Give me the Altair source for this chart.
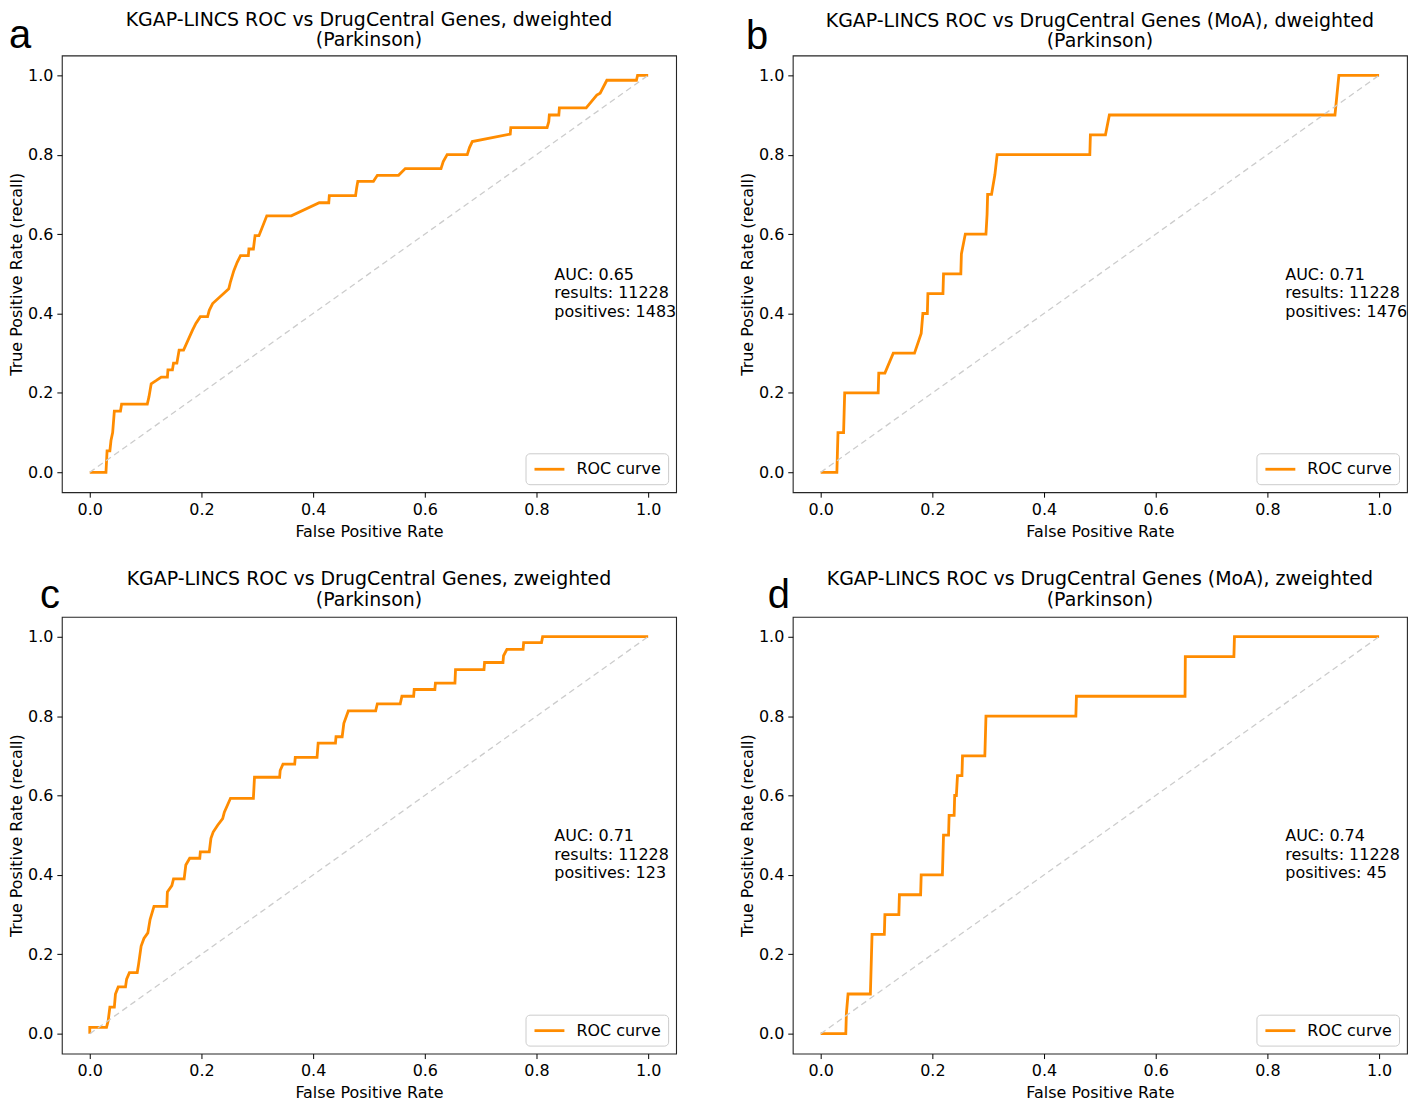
import altair as alt
import pandas as pd

# ---------------- data ----------------
titles = [
    ["KGAP-LINCS ROC vs DrugCentral Genes, dweighted", "(Parkinson)"],
    ["KGAP-LINCS ROC vs DrugCentral Genes (MoA), dweighted", "(Parkinson)"],
    ["KGAP-LINCS ROC vs DrugCentral Genes, zweighted", "(Parkinson)"],
    ["KGAP-LINCS ROC vs DrugCentral Genes (MoA), zweighted", "(Parkinson)"],
]
letters = ["a", "b", "c", "d"]
auc_values = ["0.65", "0.71", "0.71", "0.74"]
results_counts = [11228, 11228, 11228, 11228]
positives_counts = [1483, 1476, 123, 45]
legend_label = "ROC curve"
tick_values = [0.0, 0.2, 0.4, 0.6, 0.8, 1.0]

fpr_a = [0, 0.029, 0.031, 0.036, 0.038, 0.041, 0.044, 0.055, 0.057, 0.103, 0.106, 0.110,
         0.120, 0.128, 0.139, 0.140, 0.148, 0.150, 0.156, 0.160, 0.168, 0.184, 0.190, 0.198,
         0.211, 0.214, 0.220, 0.249, 0.252, 0.258, 0.264, 0.270, 0.284, 0.285, 0.293, 0.296,
         0.303, 0.317, 0.361, 0.411, 0.428, 0.429, 0.476, 0.478, 0.480, 0.508, 0.515, 0.553,
         0.565, 0.629, 0.633, 0.640, 0.676, 0.680, 0.685, 0.753, 0.754, 0.819, 0.822, 0.823,
         0.840, 0.841, 0.889, 0.908, 0.914, 0.926, 0.979, 0.981, 1.0]
tpr_a = [0, 0, 0.054, 0.054, 0.080, 0.100, 0.154, 0.154, 0.172, 0.172, 0.190, 0.223,
         0.232, 0.240, 0.240, 0.258, 0.258, 0.275, 0.275, 0.308, 0.308, 0.358, 0.375, 0.392,
         0.392, 0.408, 0.425, 0.4625, 0.480, 0.508, 0.529, 0.546, 0.546, 0.5625, 0.5625, 0.596,
         0.596, 0.646, 0.646, 0.679, 0.679, 0.697, 0.697, 0.717, 0.733, 0.733, 0.748, 0.748,
         0.765, 0.765, 0.7825, 0.800, 0.800, 0.818, 0.833, 0.852, 0.868, 0.868, 0.883, 0.900,
         0.900, 0.918, 0.918, 0.950, 0.955, 0.9875, 0.9875, 1.0, 1.0]

fpr_b = [0, 0.029, 0.030, 0.031, 0.041, 0.042, 0.043, 0.103, 0.104, 0.115, 0.130, 0.168,
         0.180, 0.183, 0.191, 0.192, 0.219, 0.220, 0.251, 0.252, 0.259, 0.296, 0.298, 0.299,
         0.306, 0.312, 0.316, 0.482, 0.483, 0.510, 0.517, 0.921, 0.928, 1.0]
tpr_b = [0, 0, 0.05, 0.10, 0.10, 0.15, 0.20, 0.20, 0.25, 0.25, 0.30, 0.30,
         0.35, 0.40, 0.40, 0.45, 0.45, 0.50, 0.50, 0.55, 0.60, 0.60, 0.65, 0.70,
         0.70, 0.75, 0.80, 0.80, 0.85, 0.85, 0.90, 0.90, 1.0, 1.0]

fpr_c = [0, 0, 0.030, 0.033, 0.036, 0.044, 0.046, 0.051, 0.064, 0.066, 0.071, 0.085,
         0.087, 0.092, 0.097, 0.104, 0.108, 0.115, 0.138, 0.139, 0.147, 0.150, 0.169, 0.172,
         0.179, 0.197, 0.198, 0.214, 0.217, 0.221, 0.229, 0.238, 0.241, 0.252, 0.293, 0.295,
         0.340, 0.341, 0.346, 0.367, 0.368, 0.407, 0.409, 0.440, 0.441, 0.452, 0.455, 0.463,
         0.512, 0.515, 0.556, 0.559, 0.580, 0.581, 0.618, 0.619, 0.654, 0.655, 0.706, 0.707,
         0.740, 0.741, 0.747, 0.776, 0.777, 0.809, 0.811, 1.0]
tpr_c = [0, 0.016, 0.016, 0.033, 0.067, 0.067, 0.100, 0.118, 0.118, 0.1375, 0.154, 0.154,
         0.171, 0.221, 0.240, 0.254, 0.2875, 0.321, 0.321, 0.357, 0.373, 0.390, 0.390, 0.425,
         0.442, 0.442, 0.458, 0.458, 0.492, 0.508, 0.525, 0.542, 0.558, 0.593, 0.593, 0.646,
         0.646, 0.663, 0.679, 0.679, 0.696, 0.696, 0.732, 0.732, 0.748, 0.748, 0.782, 0.813,
         0.813, 0.831, 0.831, 0.850, 0.850, 0.867, 0.867, 0.883, 0.883, 0.917, 0.917, 0.935,
         0.935, 0.952, 0.968, 0.968, 0.985, 0.985, 1.0, 1.0]

fpr_d = [0, 0.045, 0.046, 0.049, 0.089, 0.090, 0.091, 0.092, 0.114, 0.115, 0.140, 0.141,
         0.179, 0.180, 0.218, 0.219, 0.220, 0.229, 0.230, 0.239, 0.240, 0.243, 0.245, 0.253,
         0.254, 0.294, 0.295, 0.296, 0.457, 0.458, 0.6525, 0.653, 0.740, 0.741, 1.0]
tpr_d = [0, 0, 0.05, 0.10, 0.10, 0.15, 0.20, 0.25, 0.25, 0.30, 0.30, 0.35,
         0.35, 0.40, 0.40, 0.45, 0.50, 0.50, 0.55, 0.55, 0.60, 0.60, 0.65, 0.65,
         0.70, 0.70, 0.75, 0.80, 0.80, 0.85, 0.85, 0.95, 0.95, 1.0, 1.0]

curves = [(fpr_a, tpr_a), (fpr_b, tpr_b), (fpr_c, tpr_c), (fpr_d, tpr_d)]

# ---------------- styling / layout ----------------
ORANGE = "#ff8c00"
FONT = "DejaVu Sans"
LETTER_FONT = "Liberation Sans, Arial, Helvetica, sans-serif"
letter_offsets = [(-53, -7), (-47, -6), (-22, -9), (-25, -9)]
W, H = 616, 438
FS = 16


def make_panel(k):
    fpr, tpr = curves[k]
    roc = pd.DataFrame({
        "fpr": fpr,
        "tpr": tpr,
        "i": list(range(len(fpr))),
        "series": [legend_label] * len(fpr),
    })
    xs = alt.Scale(domain=[-0.05, 1.05], nice=False, zero=False)
    ys = alt.Scale(domain=[-0.05, 1.05], nice=False, zero=False)
    x_enc = alt.X("fpr:Q", scale=xs,
                  axis=alt.Axis(values=tick_values, format=".1f", title="False Positive Rate"))
    y_enc = alt.Y("tpr:Q", scale=ys,
                  axis=alt.Axis(values=tick_values, format=".1f", title="True Positive Rate (recall)"))

    line = alt.Chart(roc).mark_line(strokeWidth=2.8, strokeJoin="miter").encode(
        x=x_enc,
        y=y_enc,
        order=alt.Order("i:Q"),
        color=alt.Color(
            "series:N",
            scale=alt.Scale(domain=[legend_label], range=[ORANGE]),
            legend=alt.Legend(title=None, orient="bottom-right", offset=8),
        ),
    )

    diag = alt.Chart(pd.DataFrame({"fpr": [0.0, 1.0], "tpr": [0.0, 1.0]})).mark_line(
        color="#cccccc", strokeDash=[6, 4], strokeWidth=1.3
    ).encode(x=x_enc, y=y_enc)

    label = (f"AUC: {auc_values[k]}\nresults: {results_counts[k]}\n"
             f"positives: {positives_counts[k]}")
    note = alt.Chart(pd.DataFrame({"fpr": [0.832], "tpr": [0.517], "label": [label]})).mark_text(
        align="left", baseline="top", lineBreak="\n", fontSize=FS, lineHeight=18.5,
        font=FONT, color="black"
    ).encode(x=x_enc, y=y_enc, text="label:N")

    dx, dy = letter_offsets[k]
    letter = alt.Chart(pd.DataFrame({"letter": [letters[k]]})).mark_text(
        align="left", baseline="alphabetic", fontSize=40, font=LETTER_FONT, color="black"
    ).encode(x=alt.value(dx), y=alt.value(dy), text="letter:N")

    return alt.layer(line, diag, note, letter).properties(
        width=W, height=H,
        title=alt.TitleParams(text=titles[k], anchor="middle", frame="group"),
    )


panels = [make_panel(k) for k in range(4)]

chart = (
    alt.concat(*panels, columns=2, spacing={"row": 29, "column": 62})
    .resolve_scale(color="independent")
    .resolve_legend(color="independent")
    .properties(padding={"left": 0, "top": 0, "right": 0, "bottom": 0}, background="white")
    .configure_view(stroke="#262626", strokeWidth=1.1)
    .configure_axis(
        grid=False, domain=False, tickColor="black", tickSize=5, tickWidth=1,
        labelFont=FONT, labelFontSize=FS, labelColor="black", labelPadding=4,
        titleFont=FONT, titleFontSize=FS, titleFontWeight="normal", titleColor="black",
    )
    .configure_axisX(titlePadding=6)
    .configure_axisY(titlePadding=3)
    .configure_title(font=FONT, fontSize=19, fontWeight="normal", color="black",
                     offset=-34, lineHeight=21)
    .configure_legend(
        padding=7, strokeColor="#cccccc", cornerRadius=4, fillColor="white",
        labelFont=FONT, labelFontSize=FS, labelColor="black", labelOffset=18,
        symbolType="M-2,0H2", symbolSize=225, symbolStrokeWidth=2.8, symbolOffset=8,
    )
)

chart.save("out.html", embed_options={"renderer": "svg", "actions": False})
